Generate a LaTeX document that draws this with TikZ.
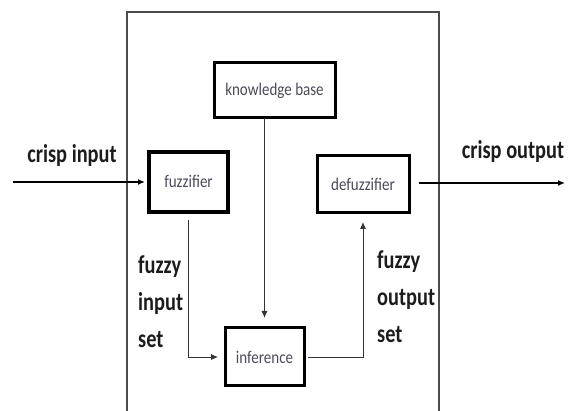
\documentclass[tikz,border=0pt]{standalone}
\usepackage{fontspec}
\setmainfont{Carlito}
\usetikzlibrary{arrows.meta}
\definecolor{boxtext}{HTML}{4A4A58}
\definecolor{labtext}{HTML}{1C1C1C}
\newcommand{\tallA}[1]{\scalebox{0.97}[1.22]{#1}}
\newcommand{\tallB}[1]{\scalebox{0.97}[1.15]{#1}}
\begin{document}
\begin{tikzpicture}[x=1pt,y=-1pt,
  blk/.style={draw=black, line width=3pt, inner sep=0pt, outer sep=0pt,
    font=\fontsize{15.5}{17}\selectfont, text=boxtext},
  lab/.style={font=\fontsize{21}{37}\selectfont\bfseries, text=labtext, inner sep=0pt},
  thinline/.style={draw=black!80, line width=0.9pt},
  tip/.style={-{Latex[length=7pt,width=6pt]}}
]
\useasboundingbox (0,0) rectangle (574,411);
% outer frame
\draw[draw=black!70, line width=1.5pt] (127,411) -- (127,12) -- (439,12) -- (439,411);
% blocks
\node[blk, minimum width=121pt, minimum height=55pt] (kb) at (274.5,90.5) {\tallB{knowledge base}};
\node[blk, line width=3.5pt, minimum width=79pt, minimum height=60pt] (fuzz) at (188.5,182) {\raisebox{2pt}{\tallB{fuzzifier}}};
\node[blk, minimum width=92pt, minimum height=57pt] (defuzz) at (363,184.5) {\tallB{defuzzifier}};
\node[blk, minimum width=79pt, minimum height=58pt] (inf) at (264.5,357) {\tallB{inference}};
% free ends
\coordinate (inA) at (13,182);
\coordinate (outB) at (565,183);
% labels
\node[lab, anchor=base] (ci) at (72,163) {\tallA{crisp input}};
\node[lab, anchor=base] (co) at (513,159) {\tallA{crisp output}};
\node[lab, anchor=north west, align=left] (fis) at (138,256) {\tallA{fuzzy}\\\tallA{input}\\\tallA{set}};
\node[lab, anchor=north west, align=left] (fos) at (377,251) {\tallA{fuzzy}\\\tallA{output}\\\tallA{set}};
% connectors
\draw[line width=1.6pt, tip, shorten >=4pt] (inA) -- (fuzz.west);
\draw[line width=1.6pt, tip, shorten <=10pt] (defuzz.east |- outB) -- (outB);
\draw[thinline, tip, shorten <=8pt, shorten >=7pt] (fuzz.south) |- (inf.west);
\draw[thinline, tip, shorten >=10pt] (inf.north |- kb.south) -- (inf.north);
\draw[thinline, tip, shorten <=4pt, shorten >=9pt] (inf.east) -| (defuzz.south);
\end{tikzpicture}
\end{document}
